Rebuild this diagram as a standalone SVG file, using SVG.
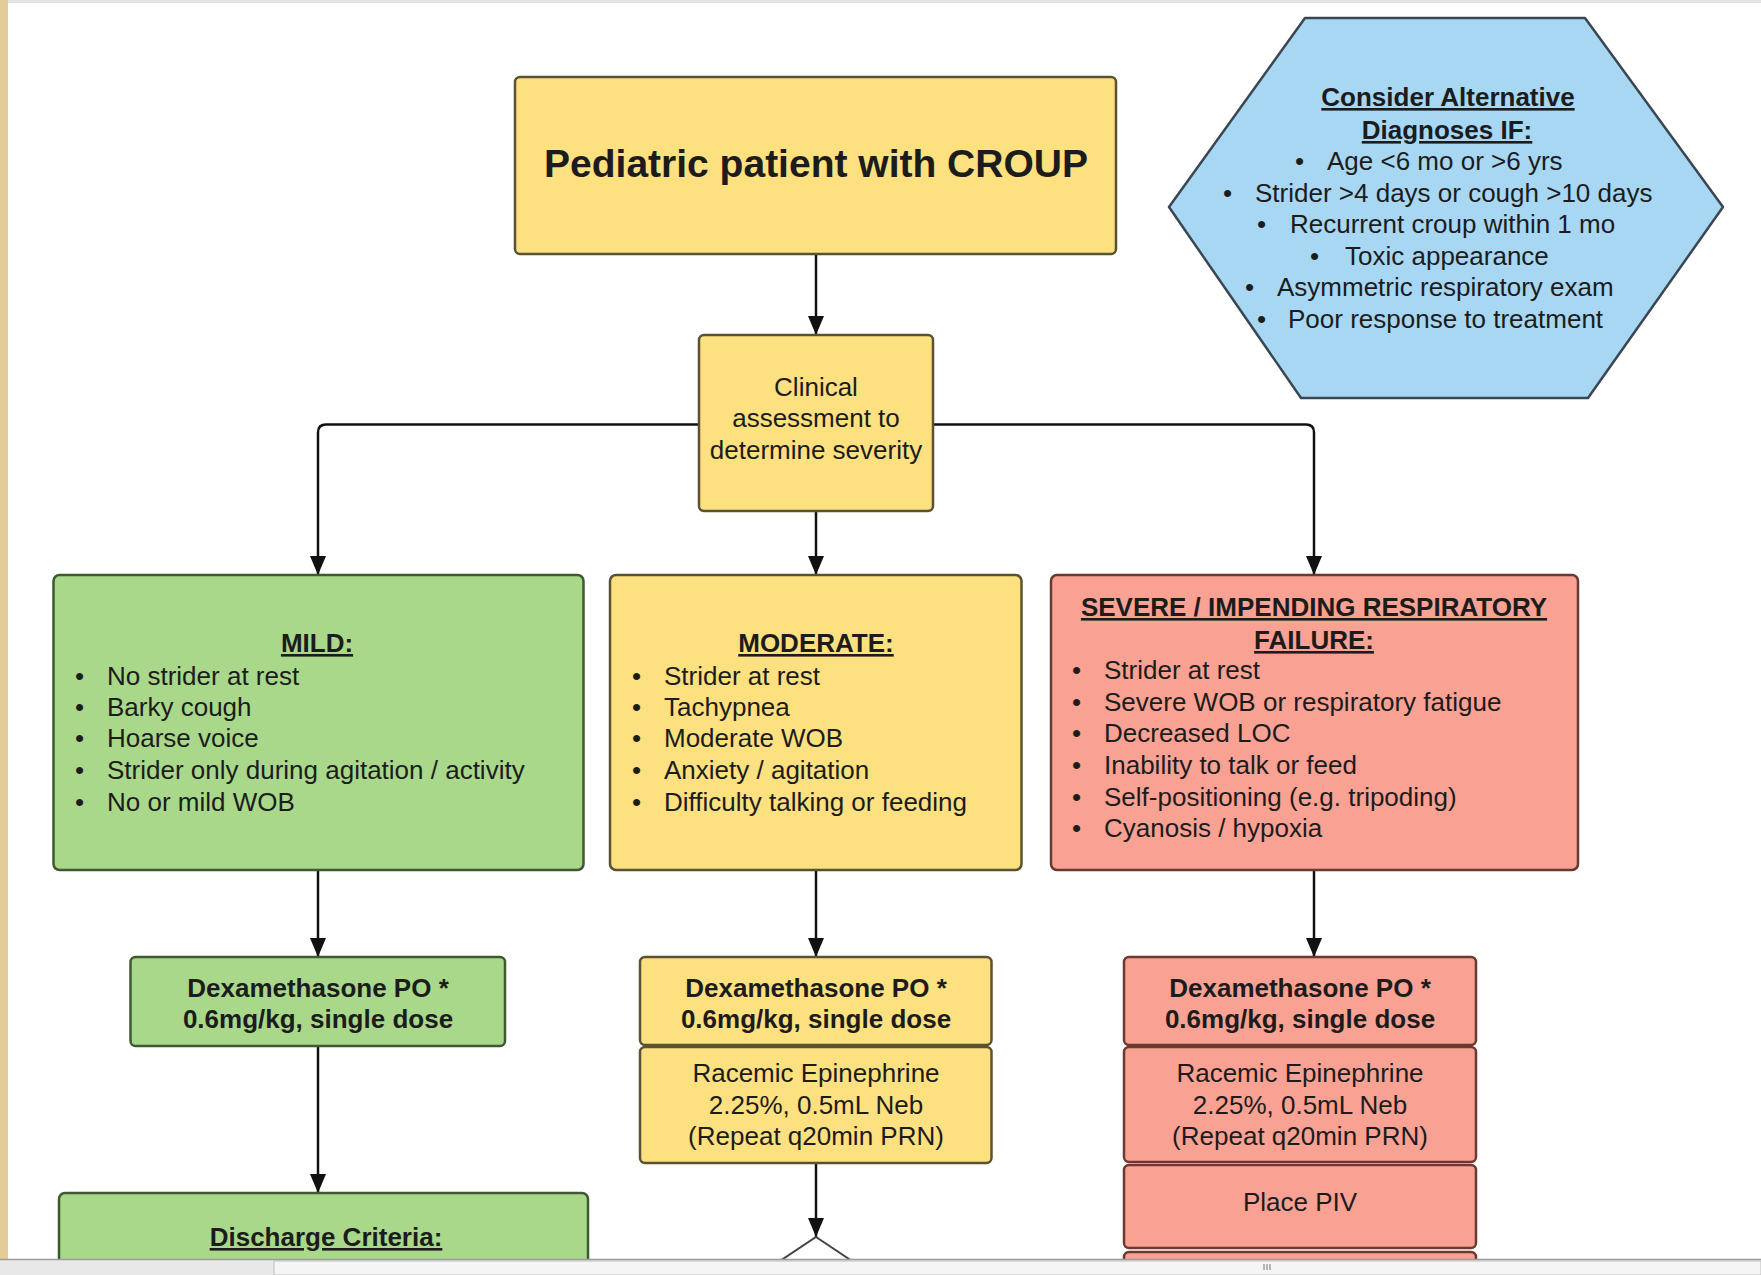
<svg xmlns="http://www.w3.org/2000/svg" width="1761" height="1275" viewBox="0 0 1761 1275">
<style>
.t{font-family:"Liberation Sans",Arial,sans-serif;font-size:26px;fill:#1c1c1c}
.b{font-weight:bold}
.u{text-decoration:underline}
.c{text-anchor:middle}
.yel{fill:#fde07f;stroke:#5a5232;stroke-width:2.5}
.grn{fill:#a9d88b;stroke:#3d5a31;stroke-width:2.5}
.red{fill:#f9a192;stroke:#6a3a30;stroke-width:2.5}
.blu{fill:#a7d7f3;stroke:#3a4752;stroke-width:2.5;stroke-linejoin:round}
.conn{fill:none;stroke:#111;stroke-width:2.5}
</style>
<defs>
<marker id="ah" markerUnits="userSpaceOnUse" markerWidth="20" markerHeight="17" refX="19" refY="8" orient="auto">
<path d="M0,0 L19,8 L0,16 z" fill="#111"/>
</marker>
</defs>
<rect x="0" y="0" width="1761" height="1275" fill="#ffffff"/>
<rect x="0" y="0" width="8" height="1275" fill="#e4cc96"/>
<rect x="8" y="0" width="1753" height="3" fill="#e3e3e3"/>

<g id="connectors">
<path class="conn" d="M816,254 V335" marker-end="url(#ah)"/>
<path class="conn" d="M699,424.5 H326 Q318,424.5 318,432.5 V575" marker-end="url(#ah)"/>
<path class="conn" d="M933,424.5 H1306 Q1314,424.5 1314,432.5 V575" marker-end="url(#ah)"/>
<path class="conn" d="M816,511 V575" marker-end="url(#ah)"/>
<path class="conn" d="M318,870 V957" marker-end="url(#ah)"/>
<path class="conn" d="M816,870 V957" marker-end="url(#ah)"/>
<path class="conn" d="M1314,870 V957" marker-end="url(#ah)"/>
<path class="conn" d="M318,1046 V1193" marker-end="url(#ah)"/>
<path class="conn" d="M816,1163 V1237" marker-end="url(#ah)"/>
</g>

<g id="title">
<rect class="yel" x="515" y="77" width="601" height="177" rx="5"/>
<text class="t b c" x="816" y="177" style="font-size:39px">Pediatric patient with CROUP</text>
</g>

<g id="alternatives">
<polygon class="blu" points="1169,207 1305,18 1585,18 1723,207 1588,398 1301,398"/>
<text class="t b u c" x="1448" y="106">Consider Alternative</text>
<text class="t b u c" x="1447" y="139">Diagnoses IF:</text>
<text class="t" x="1295" y="170">•</text><text class="t" x="1327" y="170">Age &lt;6 mo or &gt;6 yrs</text>
<text class="t" x="1223" y="201.5">•</text><text class="t" x="1255" y="201.5">Strider &gt;4 days or cough &gt;10 days</text>
<text class="t" x="1257" y="233">•</text><text class="t" x="1290" y="233">Recurrent croup within 1 mo</text>
<text class="t" x="1310" y="264.5">•</text><text class="t" x="1345" y="264.5">Toxic appearance</text>
<text class="t" x="1245" y="296">•</text><text class="t" x="1277" y="296">Asymmetric respiratory exam</text>
<text class="t" x="1257" y="327.5">•</text><text class="t" x="1288" y="327.5">Poor response to treatment</text>
</g>

<g id="clinical">
<rect class="yel" x="699" y="335" width="234" height="176" rx="5"/>
<text class="t c" x="816" y="396">Clinical</text>
<text class="t c" x="816" y="427">assessment to</text>
<text class="t c" x="816" y="459">determine severity</text>
</g>

<g id="mild">
<rect class="grn" x="53.5" y="575" width="530" height="295" rx="6"/>
<text class="t b u c" x="317" y="652">MILD:</text>
<text class="t" x="75" y="685">•</text><text class="t" x="107" y="685">No strider at rest</text>
<text class="t" x="75" y="716">•</text><text class="t" x="107" y="716">Barky cough</text>
<text class="t" x="75" y="747">•</text><text class="t" x="107" y="747">Hoarse voice</text>
<text class="t" x="75" y="779">•</text><text class="t" x="107" y="779">Strider only during agitation / activity</text>
<text class="t" x="75" y="811">•</text><text class="t" x="107" y="811">No or mild WOB</text>
</g>

<g id="moderate">
<rect class="yel" x="610" y="575" width="411.5" height="295" rx="6"/>
<text class="t b u c" x="816" y="652">MODERATE:</text>
<text class="t" x="632" y="685">•</text><text class="t" x="664" y="685">Strider at rest</text>
<text class="t" x="632" y="716">•</text><text class="t" x="664" y="716">Tachypnea</text>
<text class="t" x="632" y="747">•</text><text class="t" x="664" y="747">Moderate WOB</text>
<text class="t" x="632" y="779">•</text><text class="t" x="664" y="779">Anxiety / agitation</text>
<text class="t" x="632" y="811">•</text><text class="t" x="664" y="811">Difficulty talking or feeding</text>
</g>

<g id="severe">
<rect class="red" x="1051" y="575" width="527" height="295" rx="6"/>
<text class="t b u c" x="1314" y="616">SEVERE / IMPENDING RESPIRATORY</text>
<text class="t b u c" x="1314" y="649">FAILURE:</text>
<text class="t" x="1072" y="679">•</text><text class="t" x="1104" y="679">Strider at rest</text>
<text class="t" x="1072" y="711">•</text><text class="t" x="1104" y="711">Severe WOB or respiratory fatigue</text>
<text class="t" x="1072" y="742">•</text><text class="t" x="1104" y="742">Decreased LOC</text>
<text class="t" x="1072" y="774">•</text><text class="t" x="1104" y="774">Inability to talk or feed</text>
<text class="t" x="1072" y="806">•</text><text class="t" x="1104" y="806">Self-positioning (e.g. tripoding)</text>
<text class="t" x="1072" y="837">•</text><text class="t" x="1104" y="837">Cyanosis / hypoxia</text>
</g>

<g id="mild-dex">
<rect class="grn" x="130.5" y="957" width="374.5" height="89" rx="5"/>
<text class="t b c" x="318" y="997">Dexamethasone PO *</text>
<text class="t b c" x="318" y="1028">0.6mg/kg, single dose</text>
</g>

<g id="mod-dex">
<rect class="yel" x="640" y="957" width="351.5" height="88" rx="5"/>
<text class="t b c" x="816" y="997">Dexamethasone PO *</text>
<text class="t b c" x="816" y="1028">0.6mg/kg, single dose</text>
</g>

<g id="mod-epi">
<rect class="yel" x="640" y="1047" width="351.5" height="116" rx="5"/>
<text class="t c" x="816" y="1082">Racemic Epinephrine</text>
<text class="t c" x="816" y="1114">2.25%, 0.5mL Neb</text>
<text class="t c" x="816" y="1145">(Repeat q20min PRN)</text>
</g>

<g id="sev-dex">
<rect class="red" x="1124" y="957" width="352" height="88" rx="5"/>
<text class="t b c" x="1300" y="997">Dexamethasone PO *</text>
<text class="t b c" x="1300" y="1028">0.6mg/kg, single dose</text>
</g>

<g id="sev-epi">
<rect class="red" x="1124" y="1047" width="352" height="115" rx="5"/>
<text class="t c" x="1300" y="1082">Racemic Epinephrine</text>
<text class="t c" x="1300" y="1114">2.25%, 0.5mL Neb</text>
<text class="t c" x="1300" y="1145">(Repeat q20min PRN)</text>
</g>

<g id="sev-piv">
<rect class="red" x="1124" y="1165" width="352" height="83" rx="5"/>
<text class="t c" x="1300" y="1211">Place PIV</text>
</g>

<g id="sev-next">
<rect class="red" x="1124" y="1252" width="352" height="60" rx="5"/>
</g>

<g id="discharge">
<rect class="grn" x="59" y="1193" width="529" height="120" rx="6"/>
<text class="t b u c" x="326" y="1246">Discharge Criteria:</text>
</g>

<g id="decision">
<polygon points="816,1237 876,1277 816,1317 756,1277" fill="#ffffff" stroke="#444" stroke-width="2"/>
</g>

<g id="scrollbar">
<rect x="0" y="1259" width="1761" height="16" fill="#e8e8e8"/>
<line x1="0" y1="1259.5" x2="1761" y2="1259.5" stroke="#9c9c9c" stroke-width="1.5"/>
<rect x="274" y="1261" width="1487" height="14" fill="#f5f5f5" stroke="#bdbdbd" stroke-width="1"/>
<path d="M1264,1264 V1270 M1267,1264 V1270 M1270,1264 V1270" stroke="#777" stroke-width="1"/>
</g>
</svg>
